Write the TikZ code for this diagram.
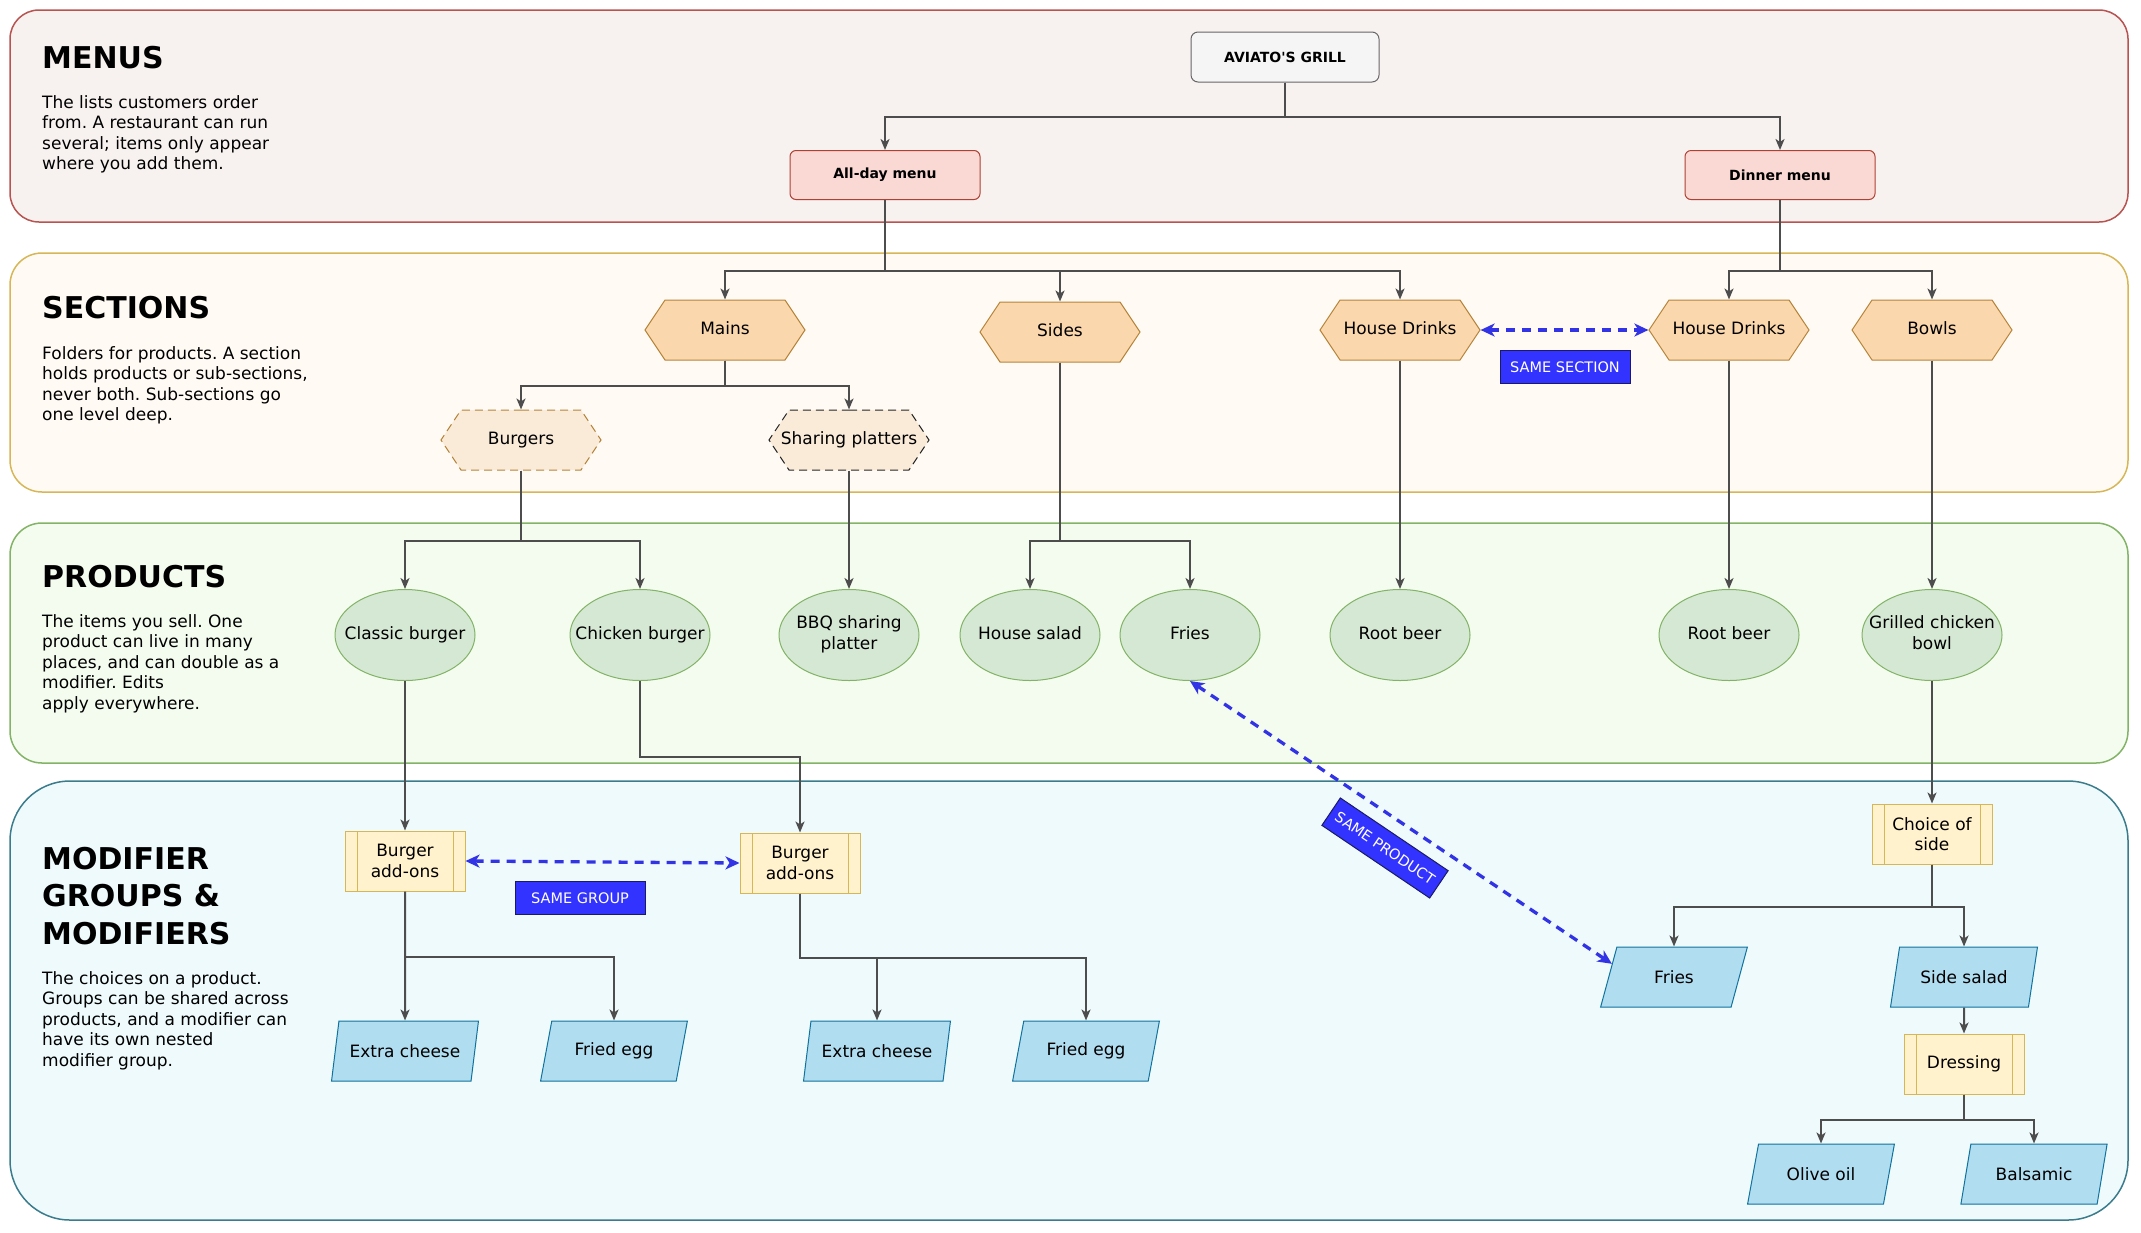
\documentclass[tikz,border=0pt]{standalone}
\usepackage{fontspec}
\setmainfont{DejaVu Sans}
\usetikzlibrary{shapes.geometric,shapes.symbols,arrows.meta}
\definecolor{menuband}{HTML}{F7F1F0}
\definecolor{menubandln}{HTML}{B85450}
\definecolor{secband}{HTML}{FFFBF4}
\definecolor{secbandln}{HTML}{D6B656}
\definecolor{prodband}{HTML}{F4FCEF}
\definecolor{prodbandln}{HTML}{82B366}
\definecolor{modband}{HTML}{EEFAFC}
\definecolor{modbandln}{HTML}{3A7C8C}
\definecolor{grillfill}{HTML}{F5F5F5}
\definecolor{grillln}{HTML}{666666}
\definecolor{menufill}{HTML}{FAD9D5}
\definecolor{menuln}{HTML}{AE4132}
\definecolor{hexfill}{HTML}{FAD7AC}
\definecolor{hexln}{HTML}{B5843A}
\definecolor{subfill}{HTML}{FAEBD9}
\definecolor{prodfill}{HTML}{D5E8D4}
\definecolor{prodln}{HTML}{82B366}
\definecolor{procfill}{HTML}{FFF2CC}
\definecolor{procln}{HTML}{D6B656}
\definecolor{modfill}{HTML}{B1DDF0}
\definecolor{modln}{HTML}{10739E}
\definecolor{cline}{HTML}{4D4D4D}
\definecolor{blueln}{HTML}{3333E6}
\definecolor{lblfill}{HTML}{3333FF}
\definecolor{lbldraw}{HTML}{1A1A66}
\newcommand{\zw}[1]{\makebox[0pt]{\begin{tabular}{@{}c@{}}#1\end{tabular}}}
\frenchspacing
\begin{document}
\begin{tikzpicture}[x=1pt,y=-1pt,
  nodefont/.style={font=\fontsize{17}{20.5}\selectfont},
  title/.style={anchor=north west, inner sep=0pt, align=left, font=\fontsize{30}{37.3}\selectfont\bfseries},
  desc/.style={anchor=north west, inner sep=0pt, align=left, font=\fontsize{17}{20.5}\selectfont},
  grillbox/.style={rectangle, rounded corners=7pt, draw=grillln, fill=grillfill, line width=1pt, minimum width=188pt, minimum height=50pt, font=\fontsize{14}{16}\selectfont\bfseries},
  menubox/.style={rectangle, rounded corners=6pt, draw=menuln, fill=menufill, line width=1pt, minimum width=190pt, minimum height=49pt, font=\fontsize{14}{16}\selectfont\bfseries},
  hexbox/.style={signal, signal to=east and west, signal pointer angle=112.6, draw=hexln, fill=hexfill, line width=1pt, minimum width=160pt, minimum height=60pt, nodefont},
  subhex/.style={hexbox, fill=subfill, dash pattern=on 8pt off 5pt},
  prodnode/.style={ellipse, draw=prodln, fill=prodfill, line width=1pt, minimum width=140pt, minimum height=91pt, inner sep=0pt, nodefont},
  procbox/.style={rectangle, draw=procln, fill=procfill, line width=1pt, minimum width=120pt, minimum height=60pt, align=center, nodefont,
    path picture={\draw[draw=procln, line width=1pt] ([xshift=12pt]path picture bounding box.north west) -- ([xshift=12pt]path picture bounding box.south west) ([xshift=-12pt]path picture bounding box.north east) -- ([xshift=-12pt]path picture bounding box.south east);}},
  modnode/.style={trapezium, trapezium left angle=71.6, trapezium right angle=108.4, trapezium stretches=true, draw=modln, fill=modfill, line width=1pt, minimum width=147pt, minimum height=60pt, nodefont},
  conn/.style={draw=cline, line width=2pt, -{Stealth[length=11pt,width=9pt,inset=3pt]}},
  bluearr/.style={draw=blueln, line width=3.3pt, dash pattern=on 9pt off 7pt, {Stealth[length=14pt,width=13pt,inset=4pt]}-{Stealth[length=14pt,width=13pt,inset=4pt]}},
  lbl/.style={rectangle, fill=lblfill, draw=lbldraw, line width=1pt, text=white, font=\fontsize{14.5}{17}\selectfont, minimum width=130pt, minimum height=33pt, inner sep=2pt}
]
\useasboundingbox (0,0) rectangle (2141,1232);
% bands
\draw[draw=menubandln, fill=menuband, line width=1.5pt, rounded corners=29pt] (10,10) rectangle (2128,222);
\draw[draw=secbandln, fill=secband, line width=1.5pt, rounded corners=32pt] (10,253) rectangle (2128,492);
\draw[draw=prodbandln, fill=prodband, line width=1.5pt, rounded corners=32pt] (10,523) rectangle (2128,763);
\draw[draw=modbandln, fill=modband, line width=1.5pt, rounded corners=60pt] (10,781) rectangle (2128,1220);
% titles and descriptions
\node[title] (t1) at (42,46) {MENUS};
\node[desc] (d1) at (42,95) {The lists customers order\\from. A restaurant can run\\several; items only appear\\where you add them.};
\node[title] (t2) at (42,296) {SECTIONS};
\node[desc] (d2) at (42,346) {Folders for products. A section\\holds products or sub-sections,\\never both. Sub-sections go\\one level deep.};
\node[title] (t3) at (42,565) {PRODUCTS};
\node[desc] (d3) at (42,614) {The items you sell. One\\product can live in many\\places, and can double as a\\modifier. Edits\\apply everywhere.};
\node[title] (t4) at (42,847) {MODIFIER\\GROUPS \&\\MODIFIERS};
\node[desc] (d4) at (42,971) {The choices on a product.\\Groups can be shared across\\products, and a modifier can\\have its own nested\\modifier group.};
% menus
\node[grillbox] (grill) at (1285,57) {AVIATO\textquotesingle S GRILL};
\node[menubox] (allday) at (885,175) {All-day menu};
\node[menubox] (dinner) at (1780,175) {Dinner menu};
% sections
\node[hexbox] (mains) at (725,330) {\zw{Mains}};
\node[hexbox] (sides) at (1060,332) {\zw{Sides}};
\node[hexbox] (hd1) at (1400,330) {\zw{House Drinks}};
\node[hexbox] (hd2) at (1729,330) {\zw{House Drinks}};
\node[hexbox] (bowls) at (1932,330) {\zw{Bowls}};
\node[subhex, draw=hexln] (burgers) at (521,440) {\zw{Burgers}};
\node[subhex, draw=black!85] (sharing) at (849,440) {\zw{Sharing platters}};
\node[lbl] (samesec) at (1565,367) {SAME SECTION};
% products
\node[prodnode] (classic) at (405,635) {\zw{Classic burger}};
\node[prodnode] (chicken) at (640,635) {\zw{Chicken burger}};
\node[prodnode] (bbq) at (849,635) {\zw{BBQ sharing\\platter}};
\node[prodnode] (hsalad) at (1030,635) {\zw{House salad}};
\node[prodnode] (fries) at (1190,635) {\zw{Fries}};
\node[prodnode] (rb1) at (1400,635) {\zw{Root beer}};
\node[prodnode] (rb2) at (1729,635) {\zw{Root beer}};
\node[prodnode] (grilled) at (1932,635) {\zw{Grilled chicken\\bowl}};
% modifier groups
\node[procbox] (ba1) at (405,861) {Burger\\add-ons};
\node[procbox] (ba2) at (800,863) {Burger\\add-ons};
\node[procbox] (choice) at (1932,834) {Choice of\\side};
\node[procbox] (dressing) at (1964,1064) {Dressing};
\node[lbl] (samegrp) at (580,898) {SAME GROUP};
% modifiers
\node[modnode] (ec1) at (405,1051) {Extra cheese};
\node[modnode] (fe1) at (614,1051) {Fried egg};
\node[modnode] (ec2) at (877,1051) {Extra cheese};
\node[modnode] (fe2) at (1086,1051) {Fried egg};
\node[modnode] (fm) at (1674,977) {Fries};
\node[modnode] (ssalad) at (1964,977) {Side salad};
\node[modnode] (olive) at (1821,1174) {Olive oil};
\node[modnode] (bals) at (2034,1174) {Balsamic};
\node[lbl, rotate=-34] (sameprod) at (1385,848) {SAME PRODUCT};
% connectors
\draw[conn] (grill.south) -- ++(0,34) -| (allday.north);
\draw[conn] (grill.south) -- ++(0,34) -| (dinner.north);
\draw[conn] (allday.south) -- ++(0,71) -| (mains.north);
\draw[conn] (allday.south) -- ++(0,71) -| (sides.north);
\draw[conn] (allday.south) -- ++(0,71) -| (hd1.north);
\draw[conn] (dinner.south) -- ++(0,71) -| (hd2.north);
\draw[conn] (dinner.south) -- ++(0,71) -| (bowls.north);
\draw[conn] (mains.south) -- ++(0,25) -| (burgers.north);
\draw[conn] (mains.south) -- ++(0,25) -| (sharing.north);
\draw[conn] (burgers.south) -- ++(0,70) -| (classic.north);
\draw[conn] (burgers.south) -- ++(0,70) -| (chicken.north);
\draw[conn] (sharing.south) -- (bbq.north);
\draw[conn] (sides.south) -- ++(0,178) -| (hsalad.north);
\draw[conn] (sides.south) -- ++(0,178) -| (fries.north);
\draw[conn] (hd1.south) -- (rb1.north);
\draw[conn] (hd2.south) -- (rb2.north);
\draw[conn] (bowls.south) -- (grilled.north);
\draw[conn] (classic.south) -- (ba1.north);
\draw[conn] (chicken.south) -- ++(0,76) -| (ba2.north);
\draw[conn] (grilled.south) -- (choice.north);
\draw[conn] (ba1.south) -- (ec1.north);
\draw[conn] (ba1.south) -- ++(0,65) -| (fe1.north);
\draw[conn] (ba2.south) -- ++(0,64) -| (ec2.north);
\draw[conn] (ba2.south) -- ++(0,64) -| (fe2.north);
\draw[conn] (choice.south) -- ++(0,42) -| (fm.north);
\draw[conn] (choice.south) -- ++(0,42) -| (ssalad.north);
\draw[conn] (ssalad.south) -- (dressing.north);
\draw[conn] (dressing.south) -- ++(0,25) -| (olive.north);
\draw[conn] (dressing.south) -- ++(0,25) -| (bals.north);
% blue relations
\draw[bluearr] (hd1.east) -- (hd2.west);
\draw[bluearr] (ba1.east) -- (ba2.west);
\draw[bluearr] (fries.south) -- (fm.168);
\end{tikzpicture}
\end{document}
